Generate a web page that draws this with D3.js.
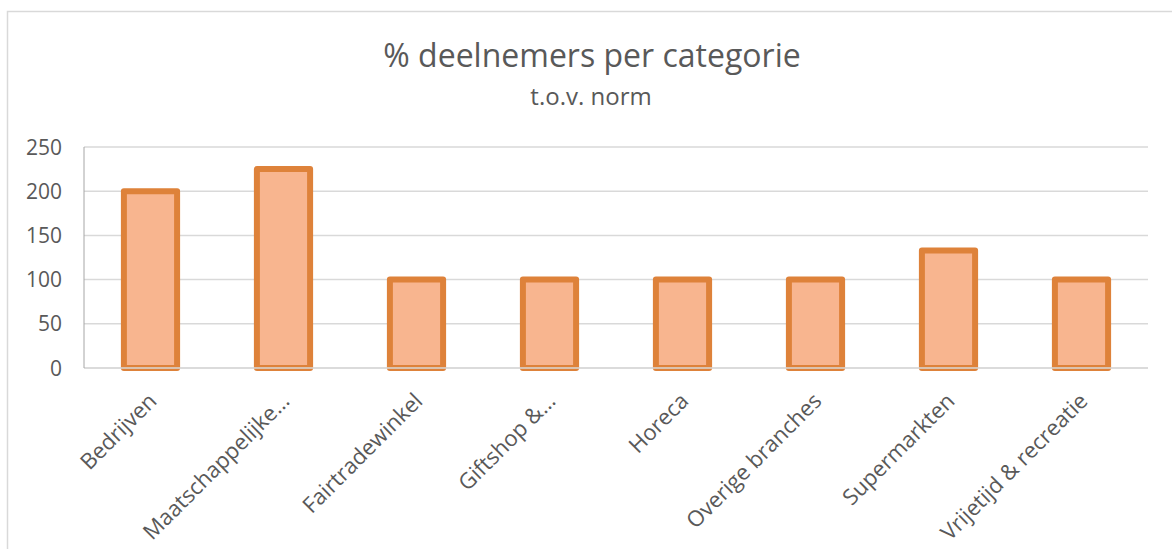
<!DOCTYPE html>
<html>
<head>
<meta charset="utf-8">
<script src="https://cdn.jsdelivr.net/npm/d3@7"></script>
<style>
  body { margin: 0; background: #fff; }
  text { font-family: "Open Sans", "Noto Sans", sans-serif; fill: #595959; }
</style>
</head>
<body>
<div id="chart"></div>
<script>
const categories = [
  "Bedrijven",
  "Maatschappelijke...",
  "Fairtradewinkel",
  "Giftshop &...",
  "Horeca",
  "Overige branches",
  "Supermarkten",
  "Vrijetijd & recreatie"
];
const values = [200, 225, 100, 100, 100, 100, 133, 100];
const yTicks = [0, 50, 100, 150, 200, 250];

const width = 1172, height = 549;
const plot = { left: 84, right: 1148, top: 147, bottom: 368 };

const svg = d3.select("#chart")
  .append("svg")
  .attr("width", width)
  .attr("height", height);

// chart frame
svg.append("rect")
  .attr("x", 7.5)
  .attr("y", 11.5)
  .attr("width", 1300)
  .attr("height", 700)
  .attr("fill", "none")
  .attr("stroke", "#d9d9d9")
  .attr("stroke-width", 1.5);

const x = d3.scaleBand()
  .domain(categories)
  .range([plot.left, plot.right])
  .paddingInner(0.6)
  .paddingOuter(0.3);

const y = d3.scaleLinear()
  .domain([0, 250])
  .range([plot.bottom, plot.top]);

// gridlines
svg.append("g")
  .selectAll("line")
  .data(yTicks)
  .enter()
  .append("line")
  .attr("x1", plot.left)
  .attr("x2", plot.right)
  .attr("y1", d => y(d))
  .attr("y2", d => y(d))
  .attr("stroke", "#d9d9d9")
  .attr("stroke-width", 1.5);

// y tick labels
svg.append("g")
  .selectAll("text")
  .data(yTicks)
  .enter()
  .append("text")
  .attr("x", 62)
  .attr("y", d => y(d))
  .attr("dy", "0.36em")
  .attr("text-anchor", "end")
  .style("font-size", "21px")
  .text(d => d);

// bars
svg.append("g")
  .selectAll("rect")
  .data(values)
  .enter()
  .append("rect")
  .attr("x", (d, i) => x(categories[i]))
  .attr("y", d => y(d))
  .attr("width", x.bandwidth())
  .attr("height", d => y(0) - y(d))
  .attr("fill", "#f8b58f")
  .attr("stroke", "#de823a")
  .attr("stroke-width", 6)
  .attr("stroke-linejoin", "round");

// baseline and vertical axis
svg.append("line")
  .attr("x1", plot.left).attr("x2", plot.right)
  .attr("y1", y(0)).attr("y2", y(0))
  .attr("stroke", "#d9d9d9").attr("stroke-width", 1.5);
svg.append("line")
  .attr("x1", plot.left).attr("x2", plot.left)
  .attr("y1", plot.top).attr("y2", plot.bottom)
  .attr("stroke", "#a6a6a6").attr("stroke-width", 1);

// category labels
svg.append("g")
  .selectAll("text")
  .data(categories)
  .enter()
  .append("text")
  .attr("transform", d => `translate(${x(d) + x.bandwidth() / 2 + 2}, 397) rotate(-45)`)
  .attr("text-anchor", "end")
  .attr("dy", "0.35em")
  .style("font-size", "22px")
  .text(d => d);

// titles
svg.append("text")
  .attr("x", 592)
  .attr("y", 67)
  .attr("text-anchor", "middle")
  .style("font-size", "32px")
  .text("% deelnemers per categorie");
svg.append("text")
  .attr("x", 591)
  .attr("y", 105)
  .attr("text-anchor", "middle")
  .style("font-size", "24px")
  .text("t.o.v. norm");
</script>
</body>
</html>
